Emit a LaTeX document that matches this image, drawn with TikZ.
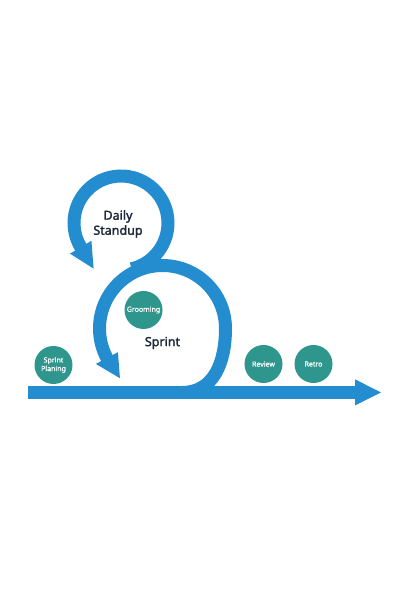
\documentclass[tikz,border=0pt]{standalone}
\usepackage{fontspec}
\setmainfont{Noto Sans}
\newfontfamily\heavysans[FakeBold=2]{Noto Sans}
\newfontfamily\midsans[FakeBold=1.2]{Noto Sans}
\usetikzlibrary{calc}
\definecolor{flowblue}{RGB}{36,141,208}
\definecolor{teal}{RGB}{46,150,140}
\definecolor{darktext}{RGB}{30,42,58}
\tikzset{
  ring/.style={draw=flowblue, line width=13pt, line cap=butt},
  tipfill/.style={fill=flowblue},
  stage/.style={circle, fill=teal, minimum size=38pt, inner sep=0pt, text=white,
    align=center, font=\midsans\fontsize{7}{8.6}\selectfont},
  title/.style={text=darktext, align=center, font=\heavysans\fontsize{12.5}{15}\selectfont}
}
\begin{document}
\begin{tikzpicture}[x=1pt,y=1pt]
\useasboundingbox (0,0) rectangle (400,600);
\fill[white] (0,0) rectangle (400,600);
% centres
\coordinate (su) at (121,377);
\coordinate (sp) at (162.5,271.5);
% main bar
\coordinate (barL) at (28,207.5);
\coordinate (barR) at (356,207.5);
\draw[flowblue, line width=12.5pt] (barL) -- (barR);
\fill[tipfill] (355,220.7) -- (381,207.5) -- (355,194.5) -- cycle;
% sprint loop
\coordinate (spstart) at (182,207.5);
\draw[ring] (spstart) .. controls (214,207.5) and (225.5,238) .. (225.5,271.5)
  arc[start angle=0, end angle=209, radius=63pt];
\fill[tipfill] ($(sp)+(208:50.5pt)$) -- ($(sp)+(208:75.5pt)$) -- ($(sp)+(208:63pt)+(303:24pt)$) -- cycle;
% daily standup loop
\draw[ring] ($(su)+(-77:47pt)$) arc[start angle=-77, end angle=212, radius=47pt];
\fill[tipfill] ($(su)+(211:34.5pt)$) -- ($(su)+(211:59.5pt)$) -- ($(su)+(211:47pt)+(301:25pt)$) -- cycle;
% labels
\node[title] (standup) at (118,376) {Daily\\Standup};
\node[title] (sprint) at (162.5,257) {Sprint};
% stages
\node[stage] (planning) at (53.5,235) {Sprint\\Planing};
\node[stage] (grooming) at (143.5,290) {Grooming};
\node[stage] (review) at (263.5,236) {Review};
\node[stage] (retro) at (313.5,236) {Retro};
\end{tikzpicture}
\end{document}
